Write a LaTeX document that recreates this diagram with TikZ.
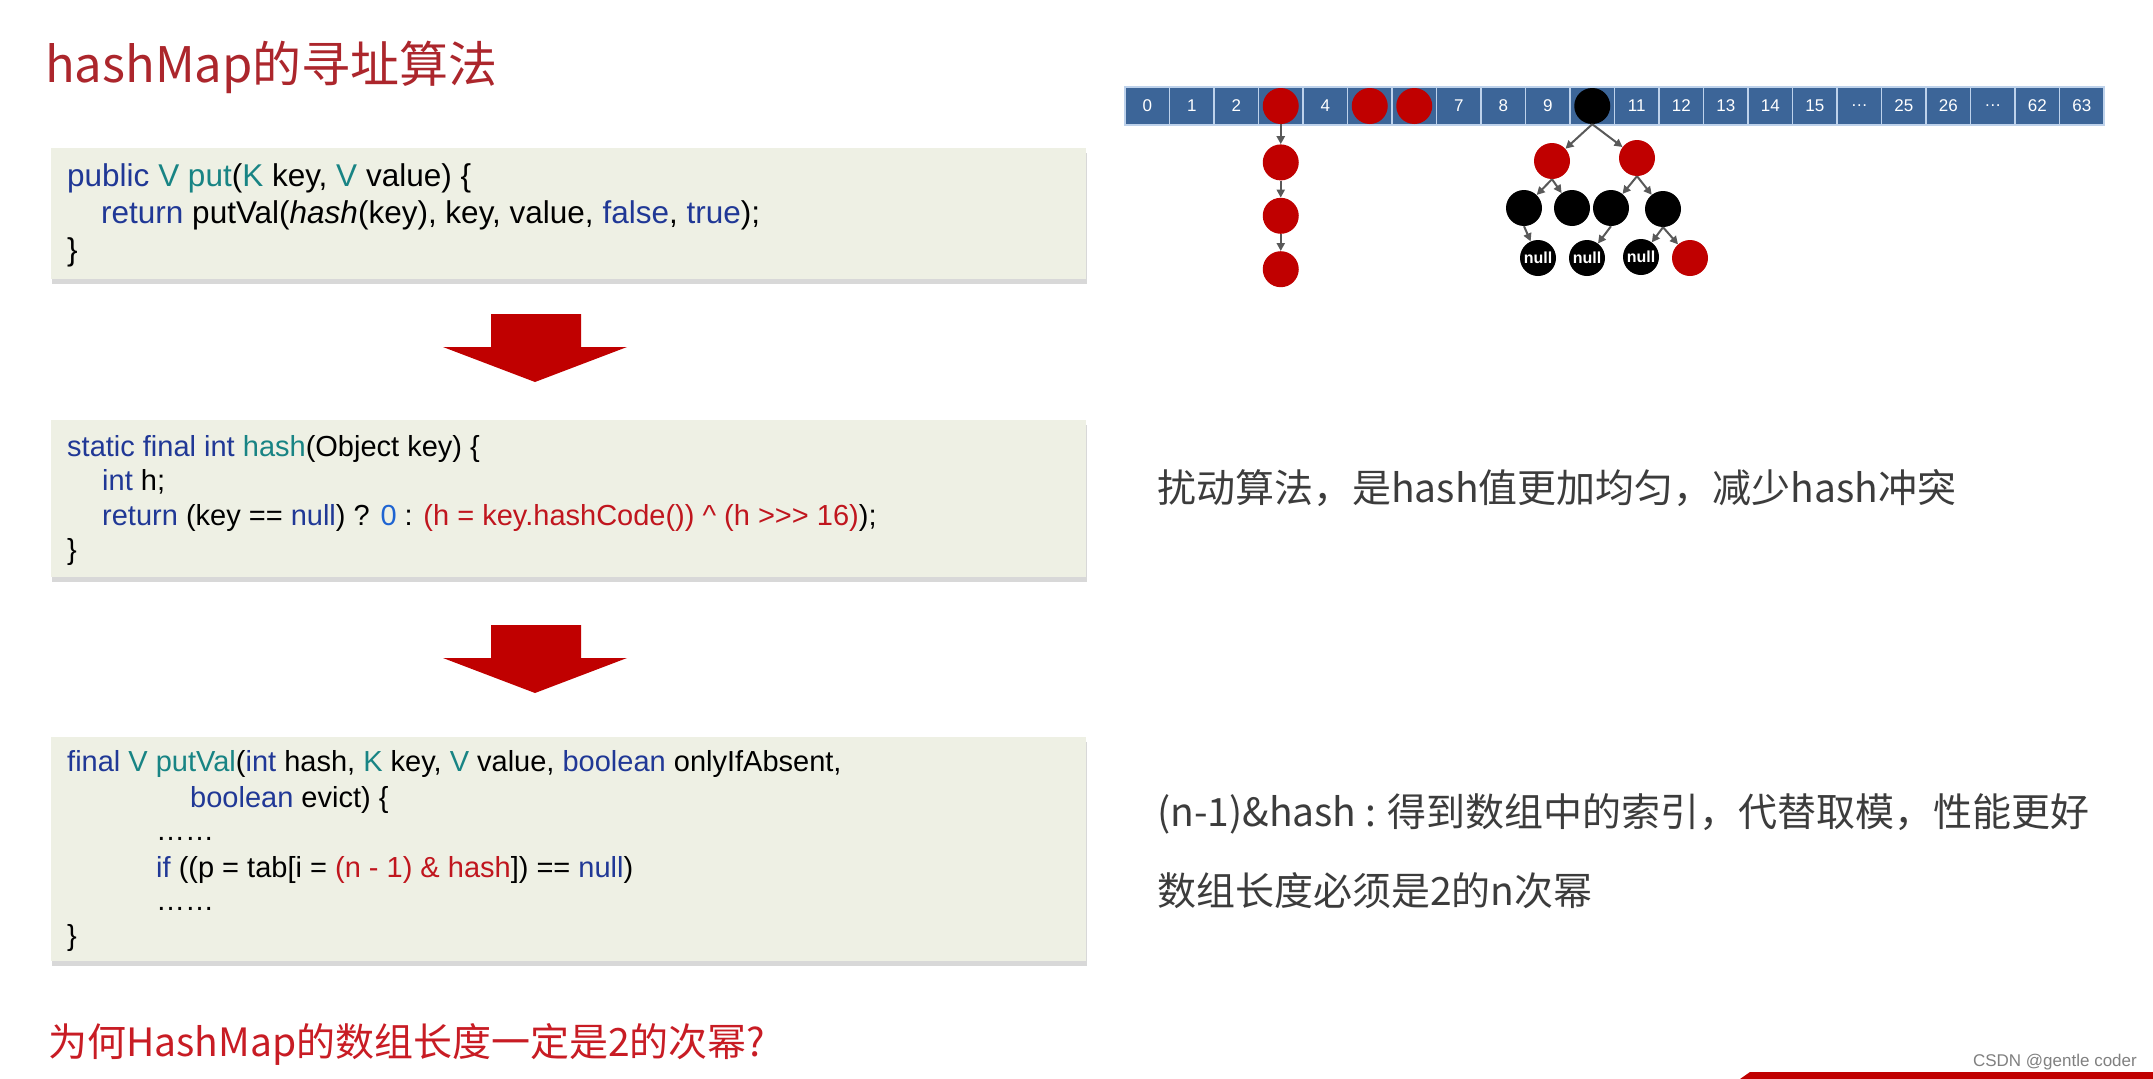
\documentclass[tikz,border=0pt]{standalone}
\usepackage{fontspec}
\setmainfont{Liberation Sans}
\newfontfamily\cjk{Noto Sans CJK SC}
\usetikzlibrary{positioning}
\usetikzlibrary{arrows.meta}
\usetikzlibrary{shadows}

\definecolor{cellblue}{RGB}{60,101,152}
\definecolor{celledge}{RGB}{190,210,235}
\definecolor{nodered}{RGB}{192,0,0}
\definecolor{edgegray}{RGB}{89,89,89}
\definecolor{boxfill}{RGB}{238,240,228}
\definecolor{kwblue}{RGB}{32,56,150}
\definecolor{tealname}{RGB}{24,132,132}
\definecolor{exprred}{RGB}{192,22,30}
\definecolor{numblue}{RGB}{30,100,210}
\definecolor{titlered}{RGB}{172,38,44}
\definecolor{askred}{RGB}{200,28,36}
\definecolor{notegray}{RGB}{60,60,60}
\definecolor{arrred}{RGB}{192,0,0}

\newcommand{\codekw}[1]{\textcolor{kwblue}{#1}}
\newcommand{\codetl}[1]{\textcolor{tealname}{#1}}
\newcommand{\codered}[1]{\textcolor{exprred}{#1}}
\newcommand{\codenum}[1]{\textcolor{numblue}{#1}}

\begin{document}
\begin{tikzpicture}[x=1pt, y=-1pt,
    cell/.style={rectangle, draw=celledge, line width=1.5pt, fill=cellblue, minimum width=44.5pt, minimum height=38pt, inner sep=0pt, text=white, font=\fontsize{17}{20}\selectfont},
    rednode/.style={circle, fill=nodered, minimum size=36pt, inner sep=0pt},
    blacknode/.style={circle, fill=black, minimum size=36pt, inner sep=0pt},
    nullnode/.style={blacknode, text=white, font=\bfseries\fontsize{16}{18}\selectfont},
    arr/.style={-{Triangle[length=8pt,width=8pt]}, draw=edgegray, line width=2pt},
    codebox/.style={rectangle, fill=boxfill, anchor=north west, minimum width=1035pt, drop shadow={shadow xshift=1pt, shadow yshift=-5pt, opacity=0.3}},
    code/.style={anchor=base west, inner sep=0pt, font=\fontsize{29}{35}\selectfont},
    bigcode/.style={code, font=\fontsize{31.5}{38}\selectfont},
    note/.style={anchor=base west, inner sep=0pt, text=notegray, font=\cjk\fontsize{39}{45}\selectfont}]

    % Page frame
    \useasboundingbox (0,0) rectangle (2153,1079);
    \fill[white] (0,0) rectangle (2153,1079);

    % Title
    \node[anchor=base west, inner sep=0pt, text=titlered, font=\cjk\fontsize{49}{58}\selectfont] (title) at (45,82) {hashMap的寻址算法};

    % The bucket array
    \foreach \lab [count=\i from 0] in {0,1,2,{},4,{},{},7,8,9,{},11,12,13,14,15,{\textellipsis},25,26,{\textellipsis},62,63}
    {
      \node[cell] (c\i) at ({1125+44.5*(\i+0.5)},106) {\lab};
    }

    % Occupied buckets
    \node[rednode] (b3) at (c3) {};
    \node[rednode] (b5) at (c5) {};
    \node[rednode] (b6) at (c6) {};
    \node[blacknode] (b10) at (c10) {};

    % Linked list under bucket 3
    \node[rednode, below=20pt of b3] (l1) {};
    \node[rednode, below=17pt of l1] (l2) {};
    \node[rednode, below=17pt of l2] (l3) {};
    \draw[arr] (b3) -- (l1);
    \draw[arr] (l1) -- (l2);
    \draw[arr] (l2) -- (l3);

    % Red-black tree under bucket 10
    \node[rednode] (tl) at (1552,161) {};
    \node[rednode] (tr) at (1637,158) {};
    \node[blacknode] (tll) at (1524,208) {};
    \node[blacknode] (tlr) at (1572,208) {};
    \node[blacknode] (trl) at (1611,208) {};
    \node[blacknode] (trr) at (1663,209) {};
    \node[nullnode] (n1) at (1538,258) {null};
    \node[nullnode] (n2) at (1587,258) {null};
    \node[nullnode] (n3) at (1641,257) {null};
    \node[rednode] (trrr) at (1690,258) {};

    \draw[arr] (b10.south) -- (tl);
    \draw[arr] (b10.south) -- (tr);
    \draw[arr] (tl.south) -- (tll);
    \draw[arr] (tl.south) -- (tlr);
    \draw[arr] (tr.south) -- (trl);
    \draw[arr] (tr.south) -- (trr);
    \draw[arr] (tll.south) -- (n1);
    \draw[arr] (trl.south) -- (n2);
    \draw[arr] (trr.south) -- (n3);
    \draw[arr] (trr.south) -- (trrr);

    % Code boxes
    \node[codebox, minimum height=131pt] (box1) at (51,148) {};
    \node[codebox, minimum height=157pt] (box2) at (51,420) {};
    \node[codebox, minimum height=224pt] (box3) at (51,737) {};

    % put()
    \node[bigcode] (put1) at (67,186) {\codekw{public} \codetl{V put}(\codetl{K} key, \codetl{V} value) \{};
    \node[bigcode] (put2) at (101,223) {\codekw{return} putVal(\textit{hash}(key), key, value, \codekw{false}, \codekw{true});};
    \node[bigcode] (put3) at (67,260) {\}};

    % hash()
    \node[code] (hash1) at (67,456) {\codekw{static final int} \codetl{hash}(Object key) \{};
    \node[code] (hash2) at (102,490) {\codekw{int} h;};
    \node[code] (hash3) at (102,525) {\codekw{return} (key == \codekw{null}) ? \codenum{0} : \codered{(h = key.hashCode()) \textasciicircum{} (h >\kern0pt>\kern0pt> 16)});};
    \node[code] (hash4) at (67,559) {\}};

    % putVal()
    \node[code] (val1) at (67,771) {\codekw{final} \codetl{V putVal}(\codekw{int} hash, \codetl{K} key, \codetl{V} value, \codekw{boolean} onlyIfAbsent,};
    \node[code] (val2) at (190,807) {\codekw{boolean} evict) \{};
    \node[code] (val3) at (156,840) {……};
    \node[code] (val4) at (156,877) {\codekw{if} ((p = tab[i = \codered{(n - 1) \& hash}]) == \codekw{null})};
    \node[code] (val5) at (156,910) {……};
    \node[code] (val6) at (67,945) {\}};

    % Big arrows between the boxes
    \foreach \y in {314,625}
    {
      \fill[arrred] (491,\y) -- (581,\y) -- (581,\y+33) -- (627,\y+33) -- (535,\y+68) -- (443,\y+33) -- (491,\y+33) -- cycle;
    }

    % Notes on the right
    \node[note] (perturb) at (1157,502) {扰动算法，是hash值更加均匀，减少hash冲突};
    \node[note] (index) at (1157,826) {(n-1)\&hash : 得到数组中的索引，代替取模，性能更好};
    \node[note] (power) at (1157,905) {数组长度必须是2的n次幂};

    % Question at the bottom
    \node[anchor=base west, inner sep=0pt, text=askred, font=\cjk\fontsize{39}{46}\selectfont] (question) at (48,1056) {为何HashMap的数组长度一定是2的次幂?};

    % Footer
    \node[anchor=base east, inner sep=0pt, text=gray, font=\fontsize{17}{20}\selectfont] (mark) at (2137,1066) {CSDN @gentle coder};
    \fill[arrred] (1740,1079) -- (1750,1072) -- (2153,1072) -- (2153,1079) -- cycle;
\end{tikzpicture}
\end{document}
